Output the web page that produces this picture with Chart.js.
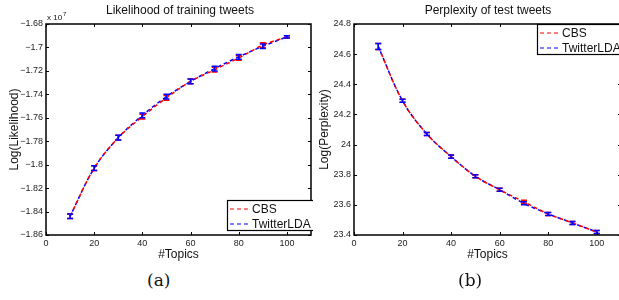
<!DOCTYPE html>
<html>
<head>
<meta charset="utf-8">
<title>Topics</title>
<script src="https://cdn.jsdelivr.net/npm/chart.js@4.4.0/dist/chart.umd.min.js"></script>
<style>
  body { margin: 0; width: 619px; height: 300px; overflow: hidden; background: #fff; position: relative; }
  .panel { position: absolute; top: 0; height: 262px; overflow: hidden; }
  .cap { position: absolute; top: 270px; font-family: "DejaVu Serif", "Liberation Serif", serif; font-size: 17px; color: #111; }
</style>
</head>
<body>
<div class="panel" style="left:0;width:313px"><canvas id="likeChart" width="313" height="262"></canvas></div>
<div class="panel" style="left:310px;width:309px"><canvas id="perpChart" width="313" height="262"></canvas></div>
<div class="cap" style="left:147px">(a)</div>
<div class="cap" style="left:458px">(b)</div>
<script>
// data
var topics = [10, 20, 30, 40, 50, 60, 70, 80, 90, 100];
// log likelihood, units of 1e7
var likeCBS   = [-1.844, -1.803, -1.777, -1.759, -1.743, -1.729, -1.719, -1.709, -1.698, -1.691];
var likeTLDA  = [-1.844, -1.803, -1.777, -1.758, -1.742, -1.729, -1.718, -1.708, -1.699, -1.691];
var likeErr   = [0.002, 0.002, 0.002, 0.002, 0.002, 0.002, 0.002, 0.002, 0.002, 0.001];
// log perplexity
var perpCBS   = [24.65, 24.29, 24.07, 23.92, 23.79, 23.70, 23.62, 23.54, 23.48, 23.42];
var perpTLDA  = [24.65, 24.29, 24.07, 23.92, 23.79, 23.70, 23.61, 23.54, 23.48, 23.42];
var perpErr   = [0.02, 0.01, 0.01, 0.01, 0.01, 0.01, 0.01, 0.01, 0.01, 0.01];

var FONT = '"Liberation Sans", Arial, sans-serif';

function pts(ys) {
  return topics.map(function (t, i) { return { x: t, y: ys[i] }; });
}
function fmt(v) {
  return String(parseFloat(v.toFixed(2))).replace('-', '\u2212');
}

// matlab style box, inner ticks, error bars, legend, title
var matlabPlugin = {
  id: 'matlab',
  afterDatasetsDraw: function (chart, args, opts) {
    var ctx = chart.ctx, a = chart.chartArea;
    var xs = chart.scales.x, ys = chart.scales.y;
    ctx.save();
    // error bars
    chart.data.datasets.forEach(function (ds) {
      ctx.strokeStyle = ds.borderColor;
      ctx.lineWidth = 1.5;
      ds.data.forEach(function (p, i) {
        var e = ds.err[i];
        var px = xs.getPixelForValue(p.x);
        var y1 = ys.getPixelForValue(p.y - e), y2 = ys.getPixelForValue(p.y + e);
        ctx.beginPath();
        ctx.moveTo(px, y1); ctx.lineTo(px, y2);
        ctx.moveTo(px - 3, y1); ctx.lineTo(px + 3, y1);
        ctx.moveTo(px - 3, y2); ctx.lineTo(px + 3, y2);
        ctx.stroke();
      });
    });
    // box
    ctx.strokeStyle = '#000';
    ctx.lineWidth = 1.5;
    ctx.strokeRect(a.left, a.top, a.right - a.left, a.bottom - a.top);
    // inner ticks
    ctx.lineWidth = 1;
    xs.ticks.forEach(function (t) {
      var px = Math.round(xs.getPixelForValue(t.value)) + 0.5;
      ctx.beginPath();
      ctx.moveTo(px, a.bottom); ctx.lineTo(px, a.bottom - 3);
      ctx.moveTo(px, a.top); ctx.lineTo(px, a.top + 3);
      ctx.stroke();
    });
    ys.ticks.forEach(function (t) {
      var py = Math.round(ys.getPixelForValue(t.value)) + 0.5;
      ctx.beginPath();
      ctx.moveTo(a.left, py); ctx.lineTo(a.left + 3, py);
      ctx.moveTo(a.right, py); ctx.lineTo(a.right - 3, py);
      ctx.stroke();
    });
    // title
    ctx.fillStyle = '#111';
    ctx.font = '12px ' + FONT;
    ctx.textAlign = 'center';
    ctx.textBaseline = 'middle';
    ctx.fillText(opts.title, opts.titleX, 11);
    if (opts.exp) {
      ctx.font = '8px ' + FONT;
      ctx.textAlign = 'left';
      ctx.fillText('x 10', a.left + 1, 18);
      ctx.font = '6px ' + FONT;
      ctx.fillText('7', a.left + 17, 14);
    }
    // legend
    var L = opts.legend;
    ctx.fillStyle = '#fff';
    ctx.fillRect(L.x, L.y, L.w, L.h);
    ctx.strokeStyle = '#000';
    ctx.lineWidth = 1.2;
    ctx.strokeRect(L.x + 0.5, L.y + 0.5, L.w, L.h);
    ctx.font = '12px ' + FONT;
    ctx.textAlign = 'left';
    chart.data.datasets.forEach(function (ds, i) {
      var ly = L.y + 9 + i * 15;
      ctx.strokeStyle = ds.borderColor;
      ctx.lineWidth = 1.2;
      ctx.setLineDash([4, 3]);
      ctx.beginPath();
      ctx.moveTo(L.x + 3, ly); ctx.lineTo(L.x + 24, ly);
      ctx.stroke();
      ctx.setLineDash([]);
      ctx.fillStyle = '#111';
      ctx.fillText(ds.label, L.x + 25, ly + 1);
    });
    ctx.restore();
  }
};

function makeChart(id, cbs, tlda, err, yMin, yMax, yTitle, axisW, pluginOpts) {
  return new Chart(document.getElementById(id), {
    type: 'line',
    data: {
      datasets: [
        { label: 'CBS', data: pts(cbs), err: err, borderColor: '#ff0000', borderWidth: 1.5, borderDash: [4, 3], pointRadius: 0, tension: 0.35, fill: false },
        { label: 'TwitterLDA', data: pts(tlda), err: err, borderColor: '#0000ff', borderWidth: 1.5, borderDash: [4, 3], borderDashOffset: 2, pointRadius: 0, tension: 0.35, fill: false }
      ]
    },
    options: {
      responsive: false,
      animation: false,
      layout: { padding: { top: 24, right: 2, left: 0, bottom: 0 } },
      plugins: { legend: { display: false }, tooltip: { enabled: false }, matlab: pluginOpts },
      scales: {
        x: {
          type: 'linear', min: 0, max: 110,
          grid: { display: false, drawTicks: false },
          border: { display: false },
          ticks: { stepSize: 20, includeBounds: false, padding: 3, color: '#222', font: { family: FONT, size: 9 } },
          title: { display: true, text: '#Topics', color: '#111', padding: { top: 0, bottom: 0 }, font: { family: FONT, size: 12 } },
          afterFit: function (s) { s.height = 27; }
        },
        y: {
          min: yMin, max: yMax,
          grid: { display: false, drawTicks: false },
          border: { display: false },
          ticks: { stepSize: 0.02 * (yMin < 0 ? 1 : 10), padding: 3, color: '#222', font: { family: FONT, size: 9 }, callback: function (v) { return fmt(v); } },
          title: { display: true, text: yTitle, color: '#111', padding: { top: 7, bottom: 0 }, font: { family: FONT, size: 12 } },
          afterFit: function (s) { s.width = axisW; }
        }
      }
    },
    plugins: [matlabPlugin]
  });
}

makeChart('likeChart', likeCBS, likeTLDA, likeErr, -1.86, -1.68, 'Log(Likelihood)', 46,
  { title: 'Likelihood of training tweets', titleX: 180, exp: true, legend: { x: 227, y: 200, w: 90, h: 30 } });
makeChart('perpChart', perpCBS, perpTLDA, perpErr, 23.4, 24.8, 'Log(Perplexity)', 44,
  { title: 'Perplexity of test tweets', titleX: 178, exp: false, legend: { x: 227, y: 24, w: 90, h: 30 } });
</script>
</body>
</html>
